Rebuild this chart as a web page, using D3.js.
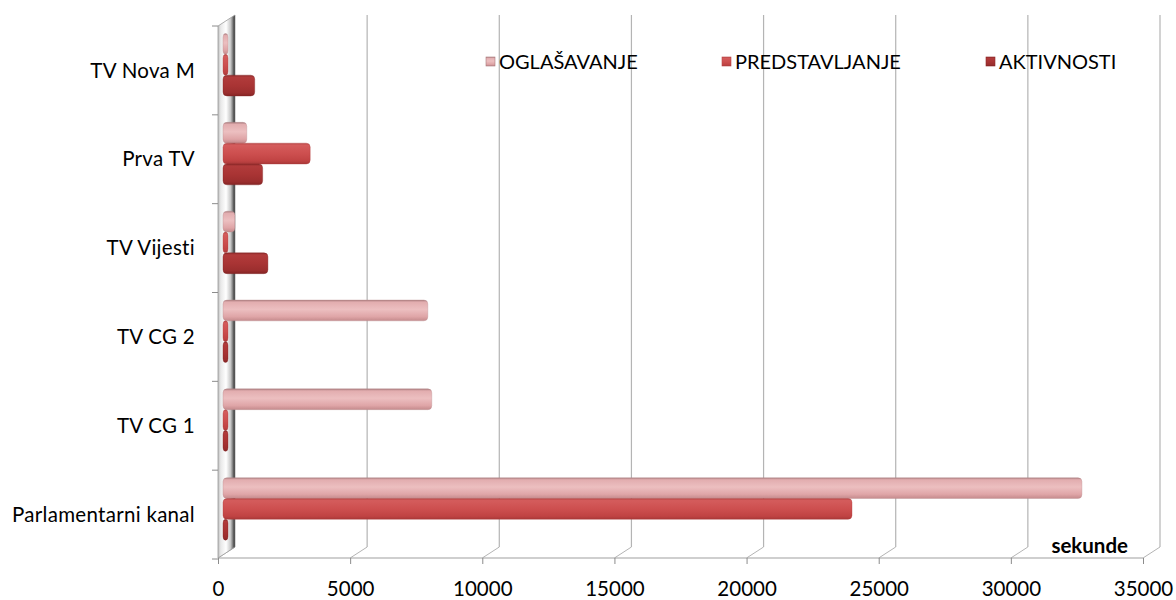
<!DOCTYPE html>
<html><head><meta charset="utf-8">
<script src="https://cdn.jsdelivr.net/npm/d3@7/dist/d3.min.js"></script>
<style>html,body{margin:0;padding:0;background:#fff;}svg{display:block;}</style>
</head><body><svg id="c" width="1176" height="600"></svg>
<script>
const categories = ["TV Nova M", "Prva TV", "TV Vijesti", "TV CG 2", "TV CG 1", "Parlamentarni kanal"];
const series = ["OGLAŠAVANJE", "PREDSTAVLJANJE", "AKTIVNOSTI"];
const oglasavanje    = [150, 900, 450, 7750, 7900, 32500];
const predstavljanje = [150, 3300, 150, 100, 100, 23800];
const aktivnosti     = [1200, 1500, 1700, 100, 100, 150];
const xTicks = [0, 5000, 10000, 15000, 20000, 25000, 30000, 35000];
const axisTitle = "sekunde";

const values = [oglasavanje, predstavljanje, aktivnosti];
const svg = d3.select("#c");
const FONT = "Lato, 'Open Sans', sans-serif";
const dx = 17, dy = -11;

const x = d3.scaleLinear().domain([0, 35000]).range([218, 1143]);
const y = d3.scaleBand().domain(categories).range([26, 559]).padding(0);
const yi = d3.scaleBand().domain(series).range([7.5, 70]).padding(0);

const defs = svg.append("defs");
const grads = [
  {id:"g0", stops:[[0,"#a87a7c"],[0.1,"#e2adaf"],[0.45,"#ecbfc0"],[0.8,"#dfa5a7"],[1,"#c48a8c"]]},
  {id:"g1", stops:[[0,"#b94646"],[0.1,"#d45c5c"],[0.5,"#cd4f4f"],[0.85,"#c04343"],[1,"#a83838"]]},
  {id:"g2", stops:[[0,"#8e2a2a"],[0.1,"#b13b3b"],[0.5,"#a93434"],[0.85,"#9b2e2e"],[1,"#842424"]]}
];
grads.forEach(g => {
  const lg = defs.append("linearGradient").attr("id", g.id).attr("x1",0).attr("y1",0).attr("x2",0).attr("y2",1);
  g.stops.forEach(s => lg.append("stop").attr("offset", s[0]).attr("stop-color", s[1]));
});
const wg = defs.append("linearGradient").attr("id","wall").attr("gradientUnits","userSpaceOnUse")
  .attr("x1",218).attr("y1",0).attr("x2",236).attr("y2",0);
[[0,"#bdbdbd"],[0.15,"#e8e8e8"],[0.45,"#ffffff"],[0.7,"#c8c8c8"],[0.85,"#6a6a6a"],[0.92,"#222"],[1,"#d0d0d0"]]
  .forEach(s => wg.append("stop").attr("offset", s[0]).attr("stop-color", s[1]));

// back wall gridlines + floor diagonals
const yTop = 15, yFloor = 558;
const grid = svg.append("g");
xTicks.forEach(t => {
  const gx = x(t);
  if (t > 0) {
    grid.append("line").attr("x1", gx+dx).attr("x2", gx+dx).attr("y1", yTop).attr("y2", yFloor+dy)
      .attr("stroke", "#b4b4b4").attr("stroke-width", 1.2);
  }
  grid.append("line").attr("x1", gx).attr("y1", yFloor).attr("x2", gx+dx).attr("y2", yFloor+dy)
    .attr("stroke", "#b4b4b4").attr("stroke-width", 1);
});

// left side wall
svg.append("path")
  .attr("d", `M218,${y.range()[0]} L${218+dx},${y.range()[0]+dy} L${218+dx},${yFloor+dy} L218,${yFloor} Z`)
  .attr("fill", "url(#wall)").attr("stroke", "#9a9a9a").attr("stroke-width", 0.8);

// bars
const x0 = x(0);
const bars = svg.append("g");
categories.forEach((c, ci) => {
  series.forEach((s, si) => {
    const v = values[si][ci];
    const w = Math.max(5, x(v) - x0);
    bars.append("rect")
      .attr("x", x0 + 5).attr("y", y(c) + yi(s))
      .attr("width", w).attr("height", yi.bandwidth())
      .attr("rx", 4).attr("ry", 4)
      .attr("fill", `url(#g${si})`)
      .attr("stroke", si === 0 ? "#b98d8f" : (si === 1 ? "#b04040" : "#802424"))
      .attr("stroke-width", 0.6).attr("stroke-opacity", 0.6);
  });
});

// front floor edge + x ticks
svg.append("line").attr("x1", x(0)).attr("x2", x(35000)).attr("y1", yFloor).attr("y2", yFloor)
  .attr("stroke", "#a0a0a0").attr("stroke-width", 1.2);
const xa = svg.append("g").attr("transform", `translate(0,${yFloor})`)
  .call(d3.axisBottom(x).tickValues(xTicks).tickFormat(d3.format("d")).tickSize(6).tickPadding(17));
xa.select(".domain").remove();
xa.selectAll("line").attr("stroke", "#8c8c8c");
xa.selectAll("text").attr("font-family", FONT).attr("font-size", 20.5).attr("fill", "#000");

// left category ticks
const ya = svg.append("g").attr("transform", "translate(218,0)");
const tickYs = categories.map(c => y(c)).concat([y.range()[1]]);
tickYs.forEach(t => ya.append("line").attr("x1", -6).attr("x2", 0).attr("y1", t).attr("y2", t).attr("stroke", "#8c8c8c"));
ya.selectAll("text.cat").data(categories).join("text").attr("class","cat")
  .attr("x", -23).attr("y", d => y(d) + y.bandwidth()/2).attr("dy", "0.35em")
  .attr("text-anchor", "end").attr("font-family", FONT).attr("font-size", 20.5).attr("fill", "#000")
  .attr("letter-spacing", 0.3)
  .text(d => d);

// axis title
svg.append("text").attr("x", 1128).attr("y", 553).attr("text-anchor", "end")
  .attr("font-family", FONT).attr("font-weight", "bold").attr("font-size", 20.5).text(axisTitle);

// legend
const legX = [486, 722, 986];
const leg = svg.append("g");
series.forEach((s, i) => {
  leg.append("rect").attr("x", legX[i]).attr("y", 57).attr("width", 9).attr("height", 9)
    .attr("fill", `url(#g${i})`).attr("stroke", grads[i].stops[0][1]).attr("stroke-width", 0.6);
  leg.append("text").attr("x", legX[i] + 13).attr("y", 62).attr("dy", "0.35em")
    .attr("font-family", FONT).attr("font-size", 20).attr("fill", "#000").text(s);
});
</script></body></html>
